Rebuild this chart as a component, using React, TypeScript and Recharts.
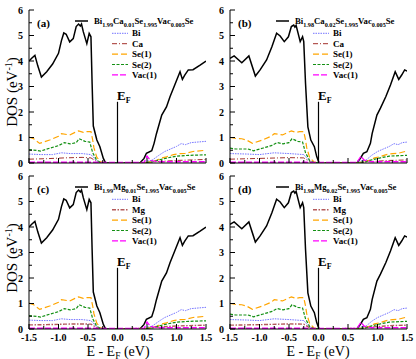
import { Fragment } from 'react'
import { LineChart, Line, XAxis, YAxis, Legend } from 'recharts'

type Pt = [number, number]

const SERIF = "'Liberation Serif', 'Times New Roman', serif"

const xTicks = [-1.5, -1.25, -1, -0.75, -0.5, -0.25, 0, 0.25, 0.5, 0.75, 1, 1.25, 1.5]
const yTicks = [0, 0.5, 1, 1.5, 2, 2.5, 3, 3.5, 4, 4.5, 5, 5.5, 6]

// total DOS, x = 0.01 (panels a, c)
const dos01: Pt[] = [
  [-1.5, 4.0], [-1.45, 4.12], [-1.4, 4.22], [-1.35, 3.8], [-1.29, 3.37], [-1.2, 3.58],
  [-1.1, 3.88], [-1.0, 4.3], [-0.95, 4.8], [-0.91, 5.1], [-0.87, 5.05], [-0.81, 4.75],
  [-0.75, 4.88], [-0.7, 5.35], [-0.66, 5.45], [-0.63, 5.37], [-0.61, 5.45], [-0.58, 5.15],
  [-0.52, 4.68], [-0.48, 5.08], [-0.45, 4.95], [-0.43, 3.1], [-0.41, 1.45], [-0.35, 0.9],
  [-0.3, 0.65], [-0.24, 0.18], [-0.2, 0], [0.38, 0], [0.45, 0.18], [0.49, 0.38],
  [0.58, 0.48], [0.62, 0.77], [0.66, 1.15], [0.75, 1.88], [0.83, 2.2], [0.89, 2.6],
  [0.97, 3.06], [1.06, 3.58], [1.1, 3.28], [1.14, 3.45], [1.2, 3.65], [1.28, 3.66],
  [1.4, 3.84], [1.5, 4.0],
]
// total DOS, x = 0.02 (panels b, d)
const dos02: Pt[] = [
  [-1.5, 4.1], [-1.43, 4.2], [-1.3, 3.93], [-1.18, 4.2], [-1.07, 3.41], [-0.99, 3.65],
  [-0.88, 4.04], [-0.79, 4.56], [-0.71, 5.09], [-0.65, 4.98], [-0.58, 4.76], [-0.51, 4.95],
  [-0.46, 5.35], [-0.42, 5.41], [-0.4, 5.33], [-0.38, 5.4], [-0.31, 4.76], [-0.27, 4.95],
  [-0.25, 4.76], [-0.22, 3.13], [-0.18, 1.42], [-0.13, 0.9], [-0.07, 0.64], [-0.03, 0.25],
  [0.01, 0], [0.65, 0], [0.71, 0.18], [0.76, 0.38], [0.82, 0.44], [0.88, 0.77],
  [0.91, 1.16], [0.99, 1.88], [1.05, 2.15], [1.14, 2.6], [1.22, 3.06], [1.3, 3.58],
  [1.36, 3.28], [1.41, 3.45], [1.46, 3.65], [1.5, 3.6],
]

const bi01: Pt[] = [
  [-1.5, 0.35], [-1.3, 0.33], [-1.1, 0.33], [-0.95, 0.4], [-0.8, 0.37], [-0.6, 0.37],
  [-0.45, 0.33], [-0.4, 0.2], [-0.35, 0.06], [-0.3, 0.02], [0.45, 0.0], [0.5, 0.08],
  [0.58, 0.1], [0.7, 0.3], [0.8, 0.45], [0.9, 0.55], [1.0, 0.65], [1.08, 0.76],
  [1.15, 0.72], [1.25, 0.8], [1.5, 0.85],
]
const bi02: Pt[] = [
  [-1.5, 0.37], [-1.2, 0.35], [-1.0, 0.33], [-0.75, 0.4], [-0.5, 0.37], [-0.25, 0.33],
  [-0.2, 0.2], [-0.15, 0.06], [-0.1, 0.02], [0.65, 0], [0.7, 0.08], [0.8, 0.1],
  [0.9, 0.3], [1.0, 0.45], [1.1, 0.55], [1.2, 0.65], [1.28, 0.76], [1.35, 0.72],
  [1.42, 0.8], [1.5, 0.82],
]
const ca01: Pt[] = [
  [-1.5, 0.15], [-1.2, 0.17], [-0.9, 0.2], [-0.6, 0.22], [-0.45, 0.2], [-0.35, 0.05],
  [-0.3, 0.01], [0.5, 0.02], [0.7, 0.06], [1.0, 0.1], [1.5, 0.14],
]
const ca02: Pt[] = [
  [-1.5, 0.15], [-1.0, 0.18], [-0.5, 0.21], [-0.25, 0.2], [-0.15, 0.05], [-0.1, 0.01],
  [0.7, 0.02], [0.9, 0.06], [1.2, 0.1], [1.5, 0.12],
]
const mg01: Pt[] = [
  [-1.5, 0.16], [-1.2, 0.17], [-0.9, 0.19], [-0.6, 0.2], [-0.45, 0.19], [-0.35, 0.05],
  [-0.3, 0.01], [0.5, 0.02], [0.7, 0.08], [1.0, 0.12], [1.5, 0.15],
]
const mg02: Pt[] = [
  [-1.5, 0.15], [-1.0, 0.17], [-0.5, 0.2], [-0.25, 0.19], [-0.15, 0.05], [-0.1, 0.01],
  [0.7, 0.02], [0.9, 0.08], [1.2, 0.13], [1.5, 0.15],
]
const se1_01: Pt[] = [
  [-1.5, 1.02], [-1.42, 0.95], [-1.32, 0.77], [-1.15, 0.9], [-1.0, 1.05], [-0.95, 1.15],
  [-0.81, 1.1], [-0.72, 1.2], [-0.66, 1.26], [-0.58, 1.2], [-0.52, 1.23], [-0.45, 1.23],
  [-0.42, 0.9], [-0.4, 0.6], [-0.35, 0.22], [-0.28, 0.05], [-0.2, 0], [0.45, 0],
  [0.55, 0.05], [0.66, 0.1], [0.75, 0.2], [0.83, 0.24], [0.95, 0.33], [1.06, 0.37],
  [1.15, 0.38], [1.28, 0.45], [1.5, 0.5],
]
const se1_02: Pt[] = [
  [-1.5, 1.0], [-1.4, 0.96], [-1.3, 0.95], [-1.22, 0.9], [-1.12, 0.77], [-0.95, 0.9],
  [-0.8, 1.05], [-0.75, 1.15], [-0.61, 1.1], [-0.52, 1.2], [-0.46, 1.26], [-0.38, 1.2],
  [-0.32, 1.23], [-0.25, 1.23], [-0.22, 0.9], [-0.2, 0.6], [-0.15, 0.22], [-0.08, 0.05],
  [0, 0], [0.65, 0], [0.75, 0.05], [0.86, 0.1], [0.95, 0.2], [1.03, 0.24], [1.15, 0.33],
  [1.26, 0.37], [1.35, 0.38], [1.5, 0.47],
]
const se2_01: Pt[] = [
  [-1.5, 0.53], [-1.3, 0.47], [-1.15, 0.58], [-1.0, 0.68], [-0.9, 0.8], [-0.8, 0.75],
  [-0.7, 0.8], [-0.65, 0.95], [-0.55, 0.85], [-0.47, 0.82], [-0.42, 0.4], [-0.35, 0.1],
  [-0.28, 0.02], [-0.2, 0], [0.45, 0], [0.5, 0.02], [0.6, 0.05], [0.7, 0.12],
  [0.85, 0.2], [1.0, 0.27], [1.2, 0.3], [1.5, 0.32],
]
const se2_02: Pt[] = [
  [-1.5, 0.58], [-1.4, 0.55], [-1.2, 0.55], [-1.1, 0.48], [-0.95, 0.58], [-0.8, 0.68],
  [-0.7, 0.8], [-0.6, 0.75], [-0.5, 0.8], [-0.45, 0.95], [-0.35, 0.85], [-0.27, 0.82],
  [-0.22, 0.4], [-0.15, 0.1], [-0.08, 0.02], [0, 0], [0.65, 0], [0.7, 0.02], [0.8, 0.05],
  [0.9, 0.12], [1.05, 0.2], [1.2, 0.27], [1.5, 0.3],
]
const vac01: Pt[] = [
  [-1.5, 0.03], [-0.4, 0.03], [-0.3, 0.02], [0.45, 0.02], [0.5, 0.27], [0.55, 0.12],
  [0.6, 0.08], [0.7, 0.05], [1.5, 0.05],
]
const vac02: Pt[] = [
  [-1.5, 0.03], [-0.2, 0.03], [-0.1, 0.02], [0.65, 0.02], [0.72, 0.27], [0.77, 0.12],
  [0.82, 0.08], [0.9, 0.05], [1.5, 0.05],
]
// Fermi level marker
const fermi: Pt[] = [[0, 0], [0, 2.4]]

const formulaA: [string, string][] = [['Bi', '1.99'], ['Ca', '0.01'], ['Se', '1.995'], ['Vac', '0.005'], ['Se', '']]
const formulaB: [string, string][] = [['Bi', '1.98'], ['Ca', '0.02'], ['Se', '1.995'], ['Vac', '0.005'], ['Se', '']]
const formulaC: [string, string][] = [['Bi', '1.99'], ['Mg', '0.01'], ['Se', '1.995'], ['Vac', '0.005'], ['Se', '']]
const formulaD: [string, string][] = [['Bi', '1.98'], ['Mg', '0.02'], ['Se', '1.995'], ['Vac', '0.005'], ['Se', '']]

const styles: Record<string, { color: string; dash: string; width: number }> = {
  Bi: { color: '#7373ff', dash: '1.5 1', width: 1 },
  Ca: { color: '#a3302c', dash: '5 2 1 2', width: 1 },
  Mg: { color: '#b45a5a', dash: '4 1.5 1.5 1.5', width: 1.4 },
  'Se(1)': { color: '#ffa500', dash: '6 3', width: 1.2 },
  'Se(2)': { color: '#149014', dash: '3 1.5', width: 1.2 },
  'Vac(1)': { color: '#ff00ff', dash: '6 2', width: 1.3 },
}

const toRows = (pts: Pt[]) => pts.map(([e, v]) => ({ e, v }))

const panels = [
  {
    tag: '(a)', left: 0, top: 0, width: 218, height: 176, yw: 29, rm: 12, showX: false, formula: formulaA,
    total: dos01,
    parts: [['Bi', bi01], ['Ca', ca01], ['Se(1)', se1_01], ['Se(2)', se2_01], ['Vac(1)', vac01]] as [string, Pt[]][],
  },
  {
    tag: '(b)', left: 205, top: 0, width: 211, height: 176, yw: 25, rm: 9, showX: false, formula: formulaB,
    total: dos02,
    parts: [['Bi', bi02], ['Ca', ca02], ['Se(1)', se1_02], ['Se(2)', se2_02], ['Vac(1)', vac02]] as [string, Pt[]][],
  },
  {
    tag: '(c)', left: 0, top: 166, width: 218, height: 193, yw: 29, rm: 12, showX: true, formula: formulaC,
    total: dos01,
    parts: [['Bi', bi01], ['Mg', mg01], ['Se(1)', se1_01], ['Se(2)', se2_01], ['Vac(1)', vac01]] as [string, Pt[]][],
  },
  {
    tag: '(d)', left: 205, top: 166, width: 211, height: 193, yw: 25, rm: 9, showX: true, formula: formulaD,
    total: dos02,
    parts: [['Bi', bi02], ['Mg', mg02], ['Se(1)', se1_02], ['Se(2)', se2_02], ['Vac(1)', vac02]] as [string, Pt[]][],
  },
]

const isStep = (v: number, step: number) => Math.abs(v / step - Math.round(v / step)) < 1e-6

function BottomTick(props: any) {
  const { x, y, payload, show } = props
  const v = payload.value
  const major = isStep(v, 0.5)
  return (
    <g>
      <line x1={x} x2={x} y1={y} y2={y - (major ? 5 : 3)} stroke="#000" />
      {show && major && (
        <text x={x} y={y + 12} textAnchor="middle" fontFamily={SERIF} fontWeight="bold" fontSize={10} fill="#000">
          {v.toFixed(1)}
        </text>
      )}
    </g>
  )
}

function TopTick(props: any) {
  const { x, y, payload } = props
  const major = isStep(payload.value, 0.5)
  return <line x1={x} x2={x} y1={y} y2={y + (major ? 5 : 3)} stroke="#000" />
}

function LeftTick(props: any) {
  const { x, y, payload } = props
  const v = payload.value
  const major = isStep(v, 1)
  return (
    <g>
      <line x1={x} x2={x + (major ? 5 : 3)} y1={y} y2={y} stroke="#000" />
      {major && (
        <text x={x - 6} y={y + 3.5} textAnchor="end" fontFamily={SERIF} fontWeight="bold" fontSize={10} fill="#000">
          {v}
        </text>
      )}
    </g>
  )
}

function RightTick(props: any) {
  const { x, y, payload } = props
  const major = isStep(payload.value, 1)
  return <line x1={x} x2={x - (major ? 5 : 3)} y1={y} y2={y} stroke="#000" />
}

function Formula({ x, y, parts }: { x: number; y: number; parts: [string, string][] }) {
  return (
    <text x={x} y={y} fontSize={8.7} fontWeight="bold" fontFamily={SERIF} fill="#000">
      {parts.map(([el, n], i) => (
        <Fragment key={i}>
          <tspan dy={i === 0 ? 0 : -2.5}>{el}</tspan>
          {n && <tspan fontSize={6.2} dy={2.5}>{n}</tspan>}
        </Fragment>
      ))}
    </text>
  )
}

function PanelKey({ p }: { p: (typeof panels)[number] }) {
  const px = p.yw
  const py = 10
  return (
    <svg width={p.width} height={p.height} style={{ display: 'block', overflow: 'visible' }}>
      <text x={px + 8} y={py + 16.5} fontFamily={SERIF} fontWeight="bold" fontSize={11} fill="#000">
        {p.tag}
      </text>
      <line x1={px + 46} x2={px + 59} y1={py + 11} y2={py + 11} stroke="#000" strokeWidth={1.5} />
      <Formula x={px + 65} y={py + 14} parts={p.formula} />
      {p.parts.map(([name], i) => {
        const s = styles[name]
        const cy = py + 23.3 + i * 10.4
        return (
          <g key={name}>
            <line x1={px + 83} x2={px + 99} y1={cy} y2={cy} stroke={s.color} strokeDasharray={s.dash} strokeWidth={s.width} />
            <text x={px + 103} y={cy + 3} fontFamily={SERIF} fontWeight="bold" fontSize={9} fill="#000">
              {name}
            </text>
          </g>
        )
      })}
      <text x={px + 88} y={py + 90} fontFamily={SERIF} fontWeight="bold" fontSize={13} fill="#000">
        E<tspan fontSize={8} dy={3}>F</tspan>
      </text>
    </svg>
  )
}

const axisLine = { stroke: '#000', strokeWidth: 1 }

function Panel({ p }: { p: (typeof panels)[number] }) {
  return (
    <div style={{ position: 'absolute', left: p.left, top: p.top }}>
      <LineChart width={p.width} height={p.height} margin={{ top: 10, right: p.rm, bottom: 0, left: 0 }}>
        <XAxis
          xAxisId="b" type="number" dataKey="e" domain={[-1.5, 1.5]} ticks={xTicks} interval={0}
          allowDataOverflow height={p.height - 163} tickSize={0} tickMargin={0} tickLine={false}
          axisLine={axisLine} tick={(t: any) => <BottomTick {...t} show={p.showX} />}
        />
        <XAxis
          xAxisId="t" orientation="top" type="number" dataKey="e" domain={[-1.5, 1.5]} ticks={xTicks}
          interval={0} allowDataOverflow height={0} tickSize={0} tickMargin={0} tickLine={false}
          axisLine={axisLine} tick={(t: any) => <TopTick {...t} />}
        />
        <YAxis
          yAxisId="l" type="number" domain={[0, 6]} ticks={yTicks} interval={0} allowDataOverflow
          width={p.yw} tickSize={0} tickMargin={0} tickLine={false} axisLine={axisLine}
          tick={(t: any) => <LeftTick {...t} />}
        />
        <YAxis
          yAxisId="r" orientation="right" type="number" domain={[0, 6]} ticks={yTicks} interval={0}
          allowDataOverflow width={0} tickSize={0} tickMargin={0} tickLine={false} axisLine={axisLine}
          tick={(t: any) => <RightTick {...t} />}
        />
        <Line
          xAxisId="b" yAxisId="l" data={toRows(p.total)} dataKey="v" type="linear" stroke="#000"
          strokeWidth={1.5} dot={false} isAnimationActive={false}
        />
        {p.parts.map(([name, pts]) => (
          <Line
            key={name} xAxisId="b" yAxisId="l" data={toRows(pts)} dataKey="v" type="linear"
            stroke={styles[name].color} strokeDasharray={styles[name].dash} strokeWidth={styles[name].width}
            dot={false} isAnimationActive={false}
          />
        ))}
        <Line
          xAxisId="t" yAxisId="r" data={toRows(fermi)} dataKey="v" type="linear" stroke="#000"
          strokeWidth={1.2} dot={false} isAnimationActive={false}
        />
        <Legend
          layout="horizontal" verticalAlign="middle" align="center"
          wrapperStyle={{ left: 0, top: 0, width: p.width, height: p.height, pointerEvents: 'none' }}
          content={() => <PanelKey p={p} />}
        />
      </LineChart>
    </div>
  )
}

export default function App() {
  return (
    <div style={{ position: 'absolute', left: 0, top: 0, width: 416, height: 359, background: '#fff', overflow: 'hidden' }}>
      {panels.map((p) => (
        <Panel key={p.tag} p={p} />
      ))}
      <svg width={416} height={359} style={{ position: 'absolute', left: 0, top: 0, pointerEvents: 'none' }}>
        {[92, 258].map((cy) => (
          <text
            key={cy} x={17} y={cy} transform={`rotate(-90 17 ${cy})`} textAnchor="middle"
            fontFamily={SERIF} fontSize={15} fill="#000"
          >
            DOS (eV<tspan fontSize={10} dy={-5}>-1</tspan><tspan dy={5}>)</tspan>
          </text>
        ))}
        {[118, 318].map((cx) => (
          <text key={cx} x={cx} y={356} textAnchor="middle" fontFamily={SERIF} fontSize={14} fill="#000">
            E - E<tspan fontSize={9.5} dy={2.5}>F</tspan><tspan dy={-2.5}> (eV)</tspan>
          </text>
        ))}
      </svg>
    </div>
  )
}
